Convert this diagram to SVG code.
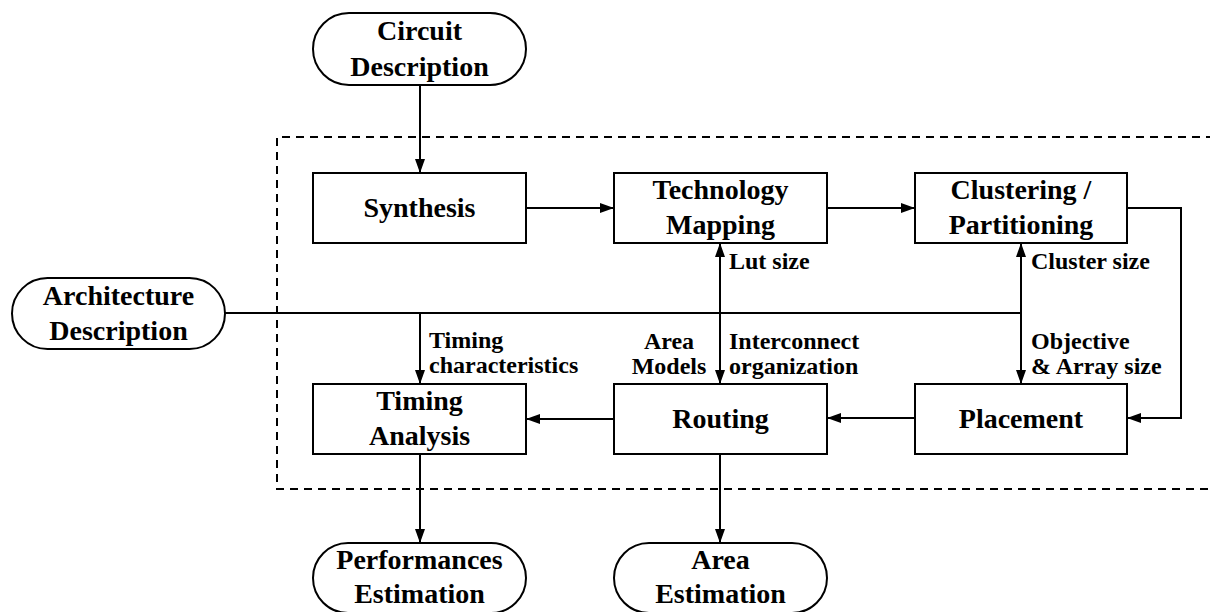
<svg xmlns="http://www.w3.org/2000/svg" width="1210" height="612" viewBox="0 0 1210 612">
<style>
.box{fill:#fff;stroke:#000;stroke-width:2}
.ln{fill:none;stroke:#000;stroke-width:2}
.dash{fill:none;stroke:#000;stroke-width:2;stroke-dasharray:8 6}
text{font-family:"Liberation Serif","Times New Roman",serif;font-weight:bold;fill:#000}
.n{font-size:28px;text-anchor:middle}
.l{font-size:24px}
</style>
<defs>
<marker id="ah" markerWidth="14" markerHeight="10" refX="14" refY="5" orient="auto" markerUnits="userSpaceOnUse">
<path d="M0,0 L14,5 L0,10 Z" fill="#000"/>
</marker>
<marker id="as" markerWidth="14" markerHeight="10" refX="0" refY="5" orient="auto" markerUnits="userSpaceOnUse">
<path d="M14,0 L0,5 L14,10 Z" fill="#000"/>
</marker>
</defs>
<path class="dash" d="M1214,137 H277 V489 H1214"/>
<g id="connectors">
<path class="ln" d="M420,85 V173" marker-end="url(#ah)"/>
<path class="ln" d="M526,208 H614" marker-end="url(#ah)"/>
<path class="ln" d="M827,208 H915" marker-end="url(#ah)"/>
<path class="ln" d="M1127,208 H1181 V418 H1127" marker-end="url(#ah)"/>
<path class="ln" d="M915,418 H827" marker-end="url(#ah)"/>
<path class="ln" d="M614,419 H526" marker-end="url(#ah)"/>
<path class="ln" d="M225,313 H1021"/>
<path class="ln" d="M420,313 V384" marker-end="url(#ah)"/>
<path class="ln" d="M720,243 V384" marker-start="url(#as)" marker-end="url(#ah)"/>
<path class="ln" d="M1021,243 V384" marker-start="url(#as)" marker-end="url(#ah)"/>
<path class="ln" d="M420,454 V543" marker-end="url(#ah)"/>
<path class="ln" d="M720,454 V543" marker-end="url(#ah)"/>
<text class="l" x="729" y="269">Lut size</text>
<text class="l" x="1031" y="269">Cluster size</text>
<text class="l" x="1031" y="349">Objective</text>
<text class="l" x="1031" y="374">&amp; Array size</text>
<text class="l" x="669" y="349" text-anchor="middle">Area</text>
<text class="l" x="669" y="374" text-anchor="middle">Models</text>
<text class="l" x="729" y="349">Interconnect</text>
<text class="l" x="729" y="374">organization</text>
<text class="l" x="429" y="348">Timing</text>
<text class="l" x="429" y="373">characteristics</text>
</g>
<g id="circuit">
<rect class="box" x="313" y="13" width="213" height="72" rx="36"/>
<text class="n" x="419.5" y="40">Circuit</text>
<text class="n" x="419.5" y="76">Description</text>
</g>
<g id="architecture">
<rect class="box" x="12" y="278" width="213" height="71" rx="35.5"/>
<text class="n" x="118.5" y="305">Architecture</text>
<text class="n" x="118.5" y="340">Description</text>
</g>
<g id="synthesis">
<rect class="box" x="313" y="173" width="213" height="70"/>
<text class="n" x="419.5" y="217">Synthesis</text>
</g>
<g id="techmap">
<rect class="box" x="614" y="173" width="213" height="70"/>
<text class="n" x="720.5" y="199">Technology</text>
<text class="n" x="720.5" y="234">Mapping</text>
</g>
<g id="clustering">
<rect class="box" x="915" y="173" width="212" height="70"/>
<text class="n" x="1021" y="199">Clustering /</text>
<text class="n" x="1021" y="234">Partitioning</text>
</g>
<g id="placement">
<rect class="box" x="915" y="384" width="212" height="70"/>
<text class="n" x="1021" y="428">Placement</text>
</g>
<g id="routing">
<rect class="box" x="614" y="384" width="213" height="70"/>
<text class="n" x="720.5" y="428">Routing</text>
</g>
<g id="timing">
<rect class="box" x="313" y="384" width="213" height="70"/>
<text class="n" x="419.5" y="410">Timing</text>
<text class="n" x="419.5" y="445">Analysis</text>
</g>
<g id="perf">
<rect class="box" x="313" y="543" width="213" height="70" rx="35"/>
<text class="n" x="419.5" y="569">Performances</text>
<text class="n" x="419.5" y="603">Estimation</text>
</g>
<g id="area">
<rect class="box" x="614" y="543" width="213" height="70" rx="35"/>
<text class="n" x="720.5" y="569">Area</text>
<text class="n" x="720.5" y="603">Estimation</text>
</g>
</svg>
